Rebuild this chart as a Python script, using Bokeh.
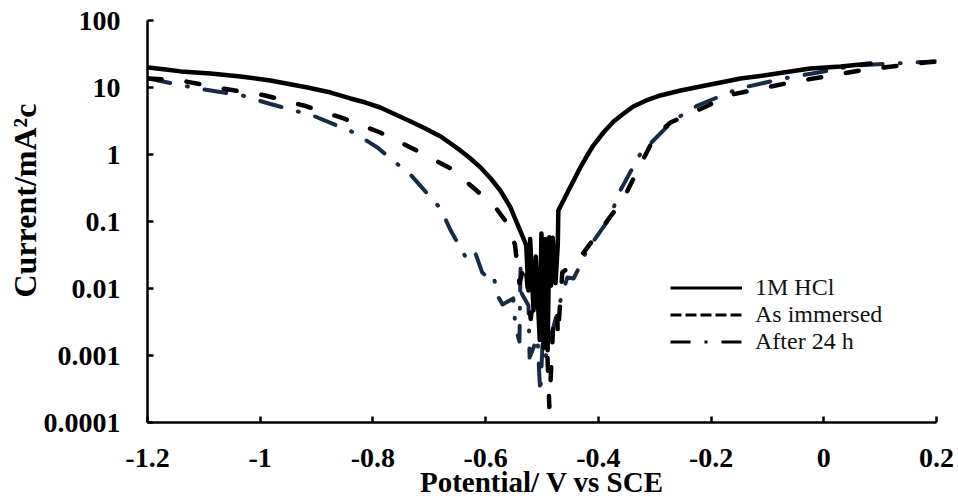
import math
from bokeh.plotting import figure
from bokeh.models import FixedTicker, Legend, LegendItem, Range1d, Title
from bokeh.embed import file_html
from bokeh.resources import INLINE

# ---- data ----
potential_hcl = [-1.198, -1.168, -1.141, -1.088, -1.035, -0.982, -0.916, -0.875, -0.840, -0.813,
                 -0.787, -0.760, -0.733, -0.707, -0.680, -0.662, -0.645, -0.627, -0.609, -0.591,
                 -0.574, -0.556, -0.544, -0.535, -0.528, -0.524, -0.521, -0.515, -0.511, -0.504,
                 -0.501, -0.497, -0.494, -0.490, -0.487, -0.484, -0.481, -0.476, -0.472, -0.471,
                 -0.462, -0.453, -0.442, -0.432, -0.421, -0.409, -0.391, -0.373, -0.355, -0.338,
                 -0.315, -0.290, -0.254, -0.219, -0.183, -0.148, -0.095, -0.024, 0.030, 0.083]
current_hcl = [19.9, 18.6, 17.4, 16.2, 14.6, 12.7, 10.0, 8.41, 6.86, 5.97,
               5.03, 3.95, 3.11, 2.44, 1.86, 1.46, 1.15, 0.871, 0.640, 0.438,
               0.290, 0.162, 0.0933, 0.0618, 0.0439, 0.0093, 0.055, 0.0047, 0.030, 0.0017,
               0.066, 0.0013, 0.055, 0.0012, 0.058, 0.011, 0.057, 0.012, 0.045, 0.146,
               0.206, 0.290, 0.438, 0.640, 0.933, 1.36, 2.13, 3.11, 4.09, 5.20,
               6.40, 7.60, 9.02, 10.35, 11.9, 13.6, 15.6, 19.2, 20.6, 22.8]

potential_immersed = [-1.198, -1.141, -1.067, -0.991, -0.923, -0.852, -0.787, -0.723, -0.662, -0.614,
                      -0.581, -0.559, -0.548, -0.540, -0.530, -0.520, -0.510, -0.500, -0.494, -0.488,
                      -0.487, -0.480, -0.473, -0.472, -0.464, -0.437, -0.414, -0.400, -0.357, -0.334,
                      -0.299, -0.272, -0.205, -0.171, -0.059, 0.065, 0.180, 0.200]
current_immersed = [13.6, 12.7, 9.67, 7.60, 5.39, 3.45, 2.13, 1.15, 0.618, 0.280,
                    0.156, 0.0871, 0.045, 0.012, 0.025, 0.0035, 0.020, 0.0015, 0.0060, 0.00030,
                    0.00017, 0.0030, 0.0047, 0.0019, 0.0173, 0.0262, 0.0470, 0.0685, 0.206, 0.503,
                    1.92, 3.00, 5.39, 7.60, 11.9, 18.0, 23.6, 24.4]

potential_24h = [-1.198, -1.111, -1.032, -0.985, -0.907, -0.834, -0.792, -0.732, -0.680, -0.662,
                 -0.632, -0.618, -0.606, -0.595, -0.586, -0.579, -0.570, -0.551, -0.547, -0.540,
                 -0.538, -0.536, -0.524, -0.522, -0.508, -0.505, -0.503, -0.499, -0.494, -0.464,
                 -0.455, -0.444, -0.435, -0.423, -0.409, -0.379, -0.364, -0.325, -0.267, -0.224,
                 -0.150, -0.072, -0.020, 0.056, 0.159, 0.200]
current_24h = [13.6, 9.67, 7.60, 5.77, 3.82, 2.13, 1.27, 0.486, 0.156, 0.0734,
               0.0262, 0.0333, 0.0173, 0.0141, 0.0156, 0.00787, 0.00577, 0.0071, 0.00262, 0.00162,
               0.0236, 0.0084, 0.00557, 0.00093, 0.00186, 0.000557, 0.000271, 0.00151, 0.00093, 0.0084,
               0.0146, 0.0141, 0.0199, 0.0333, 0.0503, 0.115, 0.262, 1.04, 3.22, 5.39,
               9.67, 13.6, 16.2, 21.3, 23.6, 24.4]

x_ticks = [-1.2, -1.0, -0.8, -0.6, -0.4, -0.2, 0.0, 0.2]
x_tick_labels = ["-1.2", "-1", "-0.8", "-0.6", "-0.4", "-0.2", "0", "0.2"]
y_ticks = [0.0001, 0.001, 0.01, 0.1, 1, 10, 100]
y_tick_labels = ["0.0001", "0.001", "0.01", "0.1", "1", "10", "100"]

series_names = ["1M HCl", "As immersed", "After 24 h"]
x_title = "Potential/ V vs SCE"
y_title = "Current/mA\u00b2c"

FONT = "Liberation Serif"
NAVY = "#172b47"

p = figure(width=958, height=502,
           x_range=Range1d(x_ticks[0], x_ticks[-1]),
           y_range=Range1d(y_ticks[0], y_ticks[-1]),
           y_axis_type="log",
           output_backend="svg", toolbar_location=None,
           min_border_left=147, min_border_right=22,
           min_border_top=20, min_border_bottom=80)

p.outline_line_color = None
p.xgrid.visible = False
p.ygrid.visible = False
p.background_fill_color = "white"
p.border_fill_color = "white"

# curves
p.line(potential_24h, current_24h, line_color=NAVY, line_width=4,
       line_dash="22 17 1 17", line_cap="round", line_join="round")
p.line(potential_immersed, current_immersed, line_color="black", line_width=4.5,
       line_dash="13 25", line_cap="round", line_join="round")
p.line(potential_hcl, current_hcl, line_color="black", line_width=4.5,
       line_join="round", line_cap="round")

# legend keys (black, as in the reference legend); NaN data so nothing is plotted
nan = [math.nan]
k1 = p.line(nan, nan, line_color="black", line_width=3)
k2 = p.line(nan, nan, line_color="black", line_width=3, line_dash="11 4")
k3 = p.line(nan, nan, line_color="black", line_width=3, line_dash="20 14 3 14")
legend = Legend(items=[LegendItem(label=series_names[0], renderers=[k1]),
                       LegendItem(label=series_names[1], renderers=[k2]),
                       LegendItem(label=series_names[2], renderers=[k3])],
                location=(523, 67))
legend.padding = 0
legend.margin = 0
legend.spacing = 0
legend.glyph_width = 72
legend.glyph_height = 25
legend.label_height = 25
legend.label_standoff = 13
legend.label_text_font = FONT
legend.label_text_font_size = "24px"
legend.label_text_color = "#111111"
legend.label_text_baseline = "middle"
legend.background_fill_alpha = 0
legend.border_line_color = None
p.add_layout(legend, "center")

# axes
for ax in (p.xaxis[0], p.yaxis[0]):
    ax.axis_line_width = 2.5
    ax.axis_line_color = "black"
    ax.major_tick_line_width = 2.5
    ax.major_tick_line_color = "black"
    ax.major_tick_in = 6
    ax.major_tick_out = 0
    ax.minor_tick_line_color = None
    ax.major_label_text_font = FONT
    ax.major_label_text_font_style = "bold"
    ax.major_label_text_color = "black"

xa = p.xaxis[0]
xa.ticker = FixedTicker(ticks=x_ticks)
xa.major_label_overrides = dict(zip(x_ticks, x_tick_labels))
xa.major_label_text_font_size = "28px"
xa.major_label_standoff = 26
xa.axis_label = x_title
xa.axis_label_text_font = FONT
xa.axis_label_text_font_style = "bold"
xa.axis_label_text_font_size = "29px"
xa.axis_label_text_color = "black"
xa.axis_label_standoff = -4

ya = p.yaxis[0]
ya.ticker = FixedTicker(ticks=y_ticks)
ya.major_label_overrides = dict(zip(y_ticks, y_tick_labels))
ya.major_label_text_font_size = "28px"
ya.major_label_standoff = 27

# y title as a side title so it can sit off-centre like the reference
yt = Title(text=y_title, align="left", offset=125, standoff=-4,
           text_font=FONT, text_font_style="bold", text_font_size="32px",
           text_color="black")
p.add_layout(yt, "left")

open("out.html", "w").write(file_html(p, INLINE))
